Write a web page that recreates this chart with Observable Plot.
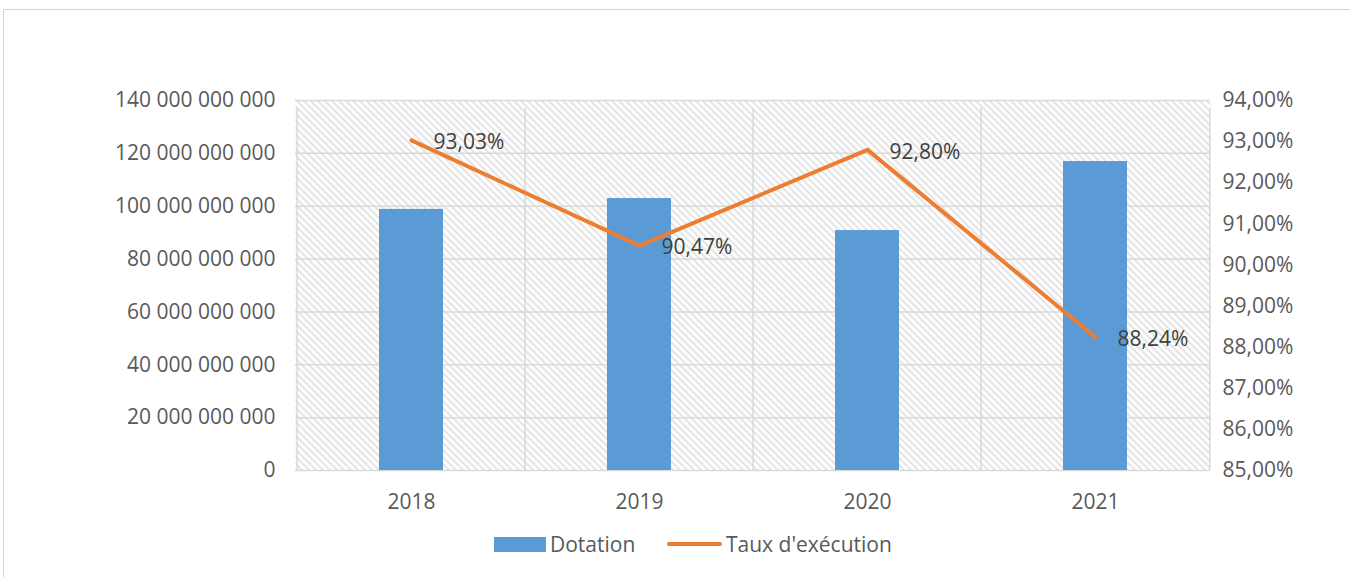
<!DOCTYPE html>
<html>
<head>
<meta charset="utf-8">
<script src="https://cdn.jsdelivr.net/npm/d3@7"></script>
<script src="https://cdn.jsdelivr.net/npm/@observablehq/plot@0.6"></script>
<style>
  html, body { margin: 0; padding: 0; background: white; }
  #wrap { position: relative; width: 1350px; height: 577px; overflow: hidden; font-family: "Open Sans", sans-serif; }
  #border { position: absolute; left: 3px; top: 9px; width: 1400px; height: 600px; border: 1px solid #d4d4d4; box-sizing: border-box; pointer-events: none; z-index: 5; }
  #legend { position: absolute; left: 0; top: 520px; width: 1350px; height: 57px; color: #595959; font-size: 21px; }
  .sw { position: absolute; }
  .lt { position: absolute; top: 9px; line-height: 30px; }
</style>
</head>
<body>
<div id="wrap">
  <div id="chart"></div>
  <div id="legend"></div>
  <div id="border"></div>
</div>
<script>
const years = ["2018", "2019", "2020", "2021"];
const dotation = [98.8e9, 102.9e9, 90.8e9, 116.9e9];
const taux = [93.03, 90.47, 92.80, 88.24];
const leftTicks = [0, 20e9, 40e9, 60e9, 80e9, 100e9, 120e9, 140e9];
const rightTicks = [85, 86, 87, 88, 89, 90, 91, 92, 93, 94];
const seriesNames = ["Dotation", "Taux d'exécution"];
const colors = ["#5B9BD5", "#ED7D31"];

const W = 1350, H = 520, ML = 295, MR = 140, MT = 100, MB = 50;
const bw = (W - ML - MR) / years.length;
const yMax = 140e9, pMin = 85, pMax = 94;
const toY = p => (p - pMin) / (pMax - pMin) * yMax;
const fromY = v => v / yMax * (pMax - pMin) + pMin;

const data = years.map((y, i) => ({year: y, dotation: dotation[i], taux: taux[i]}));
const fmtLeft = v => d3.format(",.0f")(v).replace(/,/g, " ");
const fmtPct = p => p.toFixed(2).replace(".", ",") + "%";

const plot = Plot.plot({
  width: W, height: H,
  marginLeft: ML, marginRight: MR, marginTop: MT, marginBottom: MB,
  style: {fontFamily: "'Open Sans', sans-serif", fontSize: "21px", color: "#595959", background: "transparent"},
  x: {domain: years, padding: 0, axis: null, label: null},
  y: {domain: [0, yMax], axis: null, label: null},
  marks: [
    Plot.frame({fill: "url(#hatch)", stroke: "none"}),
    Plot.gridY(leftTicks, {stroke: "#d9d9d9", strokeOpacity: 1, strokeWidth: 1.5}),
    Plot.ruleX(years, {x: d => d, dx: -bw / 2, y1: 0, y2: yMax, insetBottom: -8, stroke: "#d9d9d9", strokeWidth: 1.5}),
    Plot.ruleX([years[years.length - 1]], {x: d => d, dx: bw / 2, y1: 0, y2: yMax, insetBottom: -8, stroke: "#d9d9d9", strokeWidth: 1.5}),
    Plot.barY(data, {x: "year", y: "dotation", fill: colors[0], insetLeft: 82, insetRight: 82}),
    Plot.line(data, {x: "year", y: d => toY(d.taux), stroke: colors[1], strokeWidth: 4, strokeLinejoin: "round"}),
    Plot.text(data, {x: "year", y: d => toY(d.taux), text: d => fmtPct(d.taux), dx: 22, dy: 2, textAnchor: "start", fill: "#404040"}),
    Plot.axisY(leftTicks, {anchor: "left", tickSize: 0, tickPadding: 20, tickFormat: fmtLeft, fill: "#595959", label: null}),
    Plot.axisY(rightTicks.map(toY), {anchor: "right", tickSize: 0, tickPadding: 12, tickFormat: v => fmtPct(fromY(v)), fill: "#595959", label: null}),
    Plot.axisX({tickSize: 0, tickPadding: 24, fill: "#595959", label: null})
  ]
});

const ns = "http://www.w3.org/2000/svg";
const defs = document.createElementNS(ns, "defs");
defs.innerHTML = `<pattern id="hatch" patternUnits="userSpaceOnUse" width="7" height="7">
  <rect width="7" height="7" fill="white"/>
  <path d="M-1,-1 L8,8 M-1,6 L1,8 M6,-1 L8,1" stroke="#dedede" stroke-width="1.6"/>
</pattern>`;
plot.insertBefore(defs, plot.firstChild);
document.getElementById("chart").appendChild(plot);

const legend = document.getElementById("legend");
legend.innerHTML = `
  <div class="sw" style="left:494px;top:17px;width:52px;height:15px;background:${colors[0]}"></div>
  <div class="lt" style="left:550px">${seriesNames[0]}</div>
  <div class="sw" style="left:667px;top:22px;width:55px;height:4px;border-radius:2px;background:${colors[1]}"></div>
  <div class="lt" style="left:726px">${seriesNames[1]}</div>`;
</script>
</body>
</html>
